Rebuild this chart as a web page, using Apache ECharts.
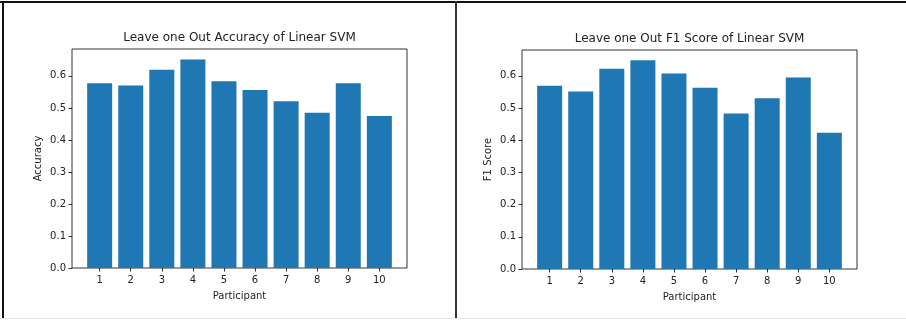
<!DOCTYPE html>
<html>
<head>
<meta charset="utf-8">
<script src="https://cdn.jsdelivr.net/npm/echarts@6/dist/echarts.min.js"></script>
<style>
  html, body { margin: 0; padding: 0; background: #fff; }
  #chart { width: 906px; height: 320px; }
</style>
</head>
<body>
<div id="chart"></div>
<script>
// Participants 1..10 and leave-one-out scores of the linear SVM
const participants = [1, 2, 3, 4, 5, 6, 7, 8, 9, 10];
const accuracy = [0.577, 0.570, 0.619, 0.651, 0.583, 0.556, 0.521, 0.485, 0.577, 0.475];
const f1Score = [0.569, 0.551, 0.622, 0.648, 0.607, 0.563, 0.483, 0.530, 0.595, 0.423];
const yTicks = [0, 0.1, 0.2, 0.3, 0.4, 0.5, 0.6];

const FONT = 'DejaVu Sans';
const TEXT = '#222';
const BAR = '#1f77b4';

function pairs(vals) {
  return participants.map((p, i) => [p, vals[i]]);
}

function xAxisFor(gridIndex) {
  return {
    type: 'value', gridIndex: gridIndex,
    min: 0.11, max: 10.89,
    name: 'Participant', nameLocation: 'middle', nameGap: 23,
    nameTextStyle: { fontFamily: FONT, fontSize: 10, color: TEXT },
    axisLine: { show: false },
    axisTick: { show: true, length: 3.5, inside: false, customValues: participants,
      lineStyle: { color: '#000', width: 0.8 } },
    axisLabel: { customValues: participants, fontFamily: FONT, fontSize: 10, color: TEXT, margin: 7 },
    splitLine: { show: false }
  };
}

function yAxisFor(gridIndex, maxVal, label) {
  return {
    type: 'value', gridIndex: gridIndex,
    min: 0, max: maxVal,
    name: label, nameLocation: 'middle', nameGap: 29, nameRotate: 90,
    nameTextStyle: { fontFamily: FONT, fontSize: 10, color: TEXT },
    axisLine: { show: false },
    axisTick: { show: true, length: 3.5, customValues: yTicks,
      lineStyle: { color: '#000', width: 0.8 } },
    axisLabel: { customValues: yTicks, fontFamily: FONT, fontSize: 10, color: TEXT, margin: 6,
      formatter: v => v.toFixed(1) },
    splitLine: { show: false }
  };
}

const chart = echarts.init(document.getElementById('chart'), null, { renderer: 'canvas' });
chart.setOption({
  animation: false,
  backgroundColor: '#fff',
  title: [
    { text: 'Leave one Out Accuracy of Linear SVM', left: 239.5, top: 32, textAlign: 'center', padding: 0,
      textStyle: { fontFamily: FONT, fontSize: 12, fontWeight: 'normal', color: TEXT } },
    { text: 'Leave one Out F1 Score of Linear SVM', left: 689.5, top: 33, textAlign: 'center', padding: 0,
      textStyle: { fontFamily: FONT, fontSize: 12, fontWeight: 'normal', color: TEXT } }
  ],
  grid: [
    { left: 72, top: 49, width: 335, height: 219, show: true, borderColor: '#000', borderWidth: 0.8,
      backgroundColor: 'transparent', containLabel: false },
    { left: 522, top: 50, width: 335, height: 219, show: true, borderColor: '#000', borderWidth: 0.8,
      backgroundColor: 'transparent', containLabel: false }
  ],
  xAxis: [xAxisFor(0), xAxisFor(1)],
  yAxis: [yAxisFor(0, 0.684, 'Accuracy'), yAxisFor(1, 0.680, 'F1 Score')],
  series: [
    { type: 'bar', xAxisIndex: 0, yAxisIndex: 0, data: pairs(accuracy), barWidth: 25,
      itemStyle: { color: BAR } },
    { type: 'bar', xAxisIndex: 1, yAxisIndex: 1, data: pairs(f1Score), barWidth: 25,
      itemStyle: { color: BAR } }
  ],
  graphic: [
    // page frame around the two panels
    { type: 'rect', shape: { x: 0, y: 1, width: 906, height: 2 }, style: { fill: '#111' }, silent: true },
    { type: 'rect', shape: { x: 2, y: 1, width: 2, height: 318 }, style: { fill: '#111' }, silent: true },
    { type: 'rect', shape: { x: 455, y: 1, width: 2, height: 318 }, style: { fill: '#333' }, silent: true },
    { type: 'rect', shape: { x: 0, y: 318, width: 906, height: 1 }, style: { fill: '#e6e6e6' }, silent: true }
  ]
});
</script>
</body>
</html>
